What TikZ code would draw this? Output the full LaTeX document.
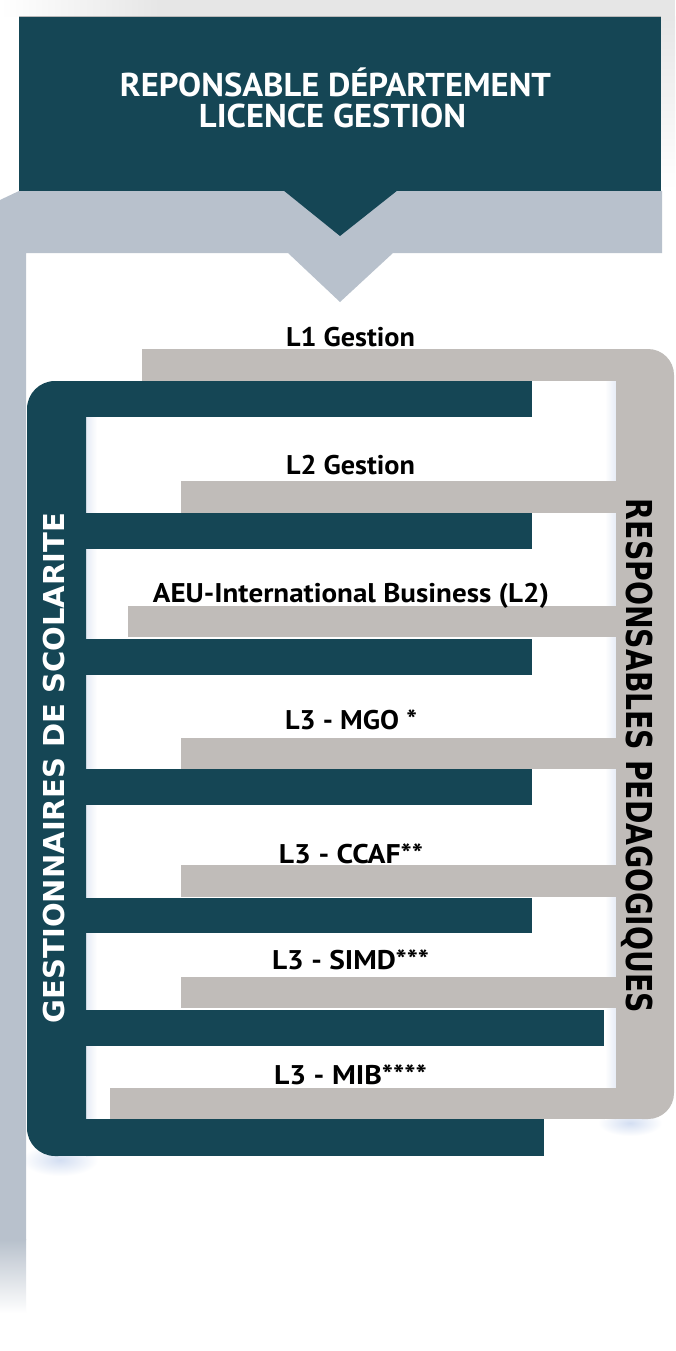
\documentclass[tikz,border=0pt]{standalone}
\usepackage{fontspec}
\usepackage{graphicx}
\setmainfont{PT Sans}
\newfontfamily\vfont{DejaVu Sans}
\definecolor{tealc}{HTML}{154655}
\definecolor{barg}{HTML}{C0BCB9}
\definecolor{bandc}{HTML}{B8C1CC}
\definecolor{shadowc}{HTML}{D3DEF2}
\definecolor{glowc}{HTML}{E6EBF5}
\definecolor{topg}{HTML}{E6E6E6}
\begin{document}
\begin{tikzpicture}[x=1pt,y=-1pt,
  tealfill/.style={fill=tealc,draw=none},
  greyfill/.style={fill=barg,draw=none},
  titletext/.style={anchor=base,inner sep=0pt,text=white,font=\bfseries\fontsize{33}{33}\selectfont},
  lbl/.style={anchor=base,inner sep=0pt,text=black,font=\bfseries\fontsize{27}{27}\selectfont},
  vtext/.style={inner sep=0pt,text depth=0pt,anchor=center}
]
\useasboundingbox (0,0) rectangle (675,1351);
\fill[white] (0,0) rectangle (675,1351);
% top light grey gradient
\shade[left color=white,right color=topg] (0,0) rectangle (160,17);
\fill[topg] (160,0) rectangle (675,17);
\shade[top color=topg,bottom color=white] (661,17) rectangle (675,190);
% soft shadows
\shade[inner color=shadowc,outer color=white] (60,1160) ellipse (38 and 16);
\shade[inner color=shadowc,outer color=white] (630,1123) ellipse (32 and 13);
% blue-grey band with left bar and lower pointer
\fill[bandc] (0,200) -- (19,191) -- (662,191) -- (662,253) -- (393,253) -- (340,302) -- (288,253) -- (26,253) -- (26,1240) -- (0,1240) -- cycle;
\shade[top color=bandc,bottom color=white] (0,1239.5) rectangle (26,1313);
% head box
\node (head) [tealfill,anchor=north west,minimum width=642pt,minimum height=174pt,inner sep=0pt] at (19,17) {};
\draw[draw=gray!55,line width=1pt] (head.north west) -- (head.north east);
\fill[tealc] (283,190) -- (398,190) -- (340,236) -- cycle;
\node (t1) [titletext] at (335.5,97) {\resizebox{431pt}{\height}{REPONSABLE DÉPARTEMENT}};
\node (t2) [titletext] at (332.5,128) {\resizebox{267pt}{\height}{LICENCE GESTION}};
% glows along inner panel edges
\shade[left color=glowc,right color=white] (86,381) rectangle (97,1156);
\shade[left color=white,right color=glowc] (605,349) rectangle (616,1119);
% right panel and grey bars
\fill[greyfill,rounded corners=26pt] (616,349) rectangle (674,1119);
\fill[greyfill] (142,349) rectangle (645,381);
\fill[greyfill] (181,481) rectangle (630,513);
\fill[greyfill] (128,606) rectangle (630,637);
\fill[greyfill] (181,738) rectangle (630,769);
\fill[greyfill] (181,865) rectangle (630,897);
\fill[greyfill] (181,977) rectangle (630,1008);
\fill[greyfill] (110,1088) rectangle (645,1119);
% left panel and teal bars
\fill[tealfill,rounded corners=28pt] (27,381) rectangle (86,1156);
\fill[tealfill] (56,381) rectangle (532,417);
\fill[tealfill] (80,513) rectangle (532,549);
\fill[tealfill] (80,639) rectangle (532,675);
\fill[tealfill] (80,769) rectangle (532,805);
\fill[tealfill] (80,898) rectangle (532,933);
\fill[tealfill] (80,1010) rectangle (604,1046);
\fill[tealfill] (56,1119) rectangle (544,1156);
% vertical texts
\node (gest) [vtext,rotate=90,text=white,font=\vfont\bfseries\fontsize{28.8}{28.8}\selectfont] at (53.5,768) {\resizebox{510pt}{\height}{GESTIONNAIRES DE SCOLARITE}};
\node (resp) [vtext,rotate=-90,text=black,font=\vfont\bfseries\fontsize{35.7}{35.7}\selectfont] at (640,756) {\resizebox{514pt}{\height}{RESPONSABLES PEDAGOGIQUES}};
% labels
\node (l1) [lbl] at (350.5,346) {\resizebox{129pt}{\height}{L1 Gestion}};
\node (l2) [lbl] at (350.5,474) {\resizebox{129pt}{\height}{L2 Gestion}};
\node (aeu) [lbl] at (351,602) {\resizebox{396pt}{\height}{AEU-International Business (L2)}};
\node (mgo) [lbl] at (351,729) {\resizebox{132pt}{\height}{L3 - MGO *}};
\node (ccaf) [lbl] at (351,863) {\resizebox{144pt}{\height}{L3 - CCAF**}};
\node (simd) [lbl] at (350.5,969) {\resizebox{157pt}{\height}{L3 - SIMD***}};
\node (mib) [lbl] at (350.5,1084) {\resizebox{153pt}{\height}{L3 - MIB****}};
\end{tikzpicture}
\end{document}
